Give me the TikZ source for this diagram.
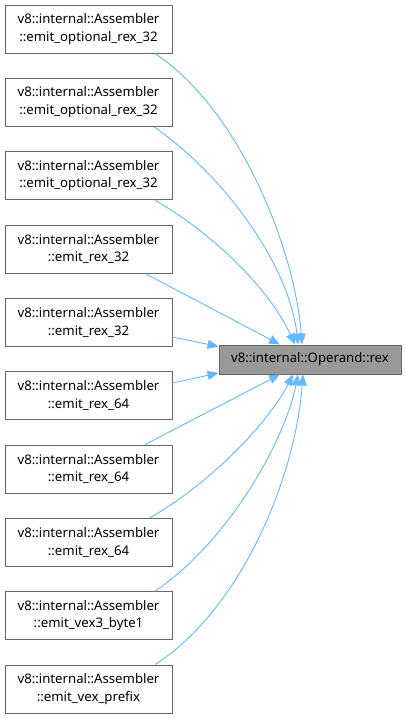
\documentclass[tikz,border=0pt]{standalone}
\usepackage{fontspec}
\setmainfont{Noto Sans}
\usetikzlibrary{arrows.meta}
\definecolor{edgeblue}{HTML}{63B8FF}
\definecolor{boxgray}{HTML}{999999}
\definecolor{bordergray}{HTML}{666666}
\begin{document}
\begin{tikzpicture}[x=1pt,y=-1pt,
  fbox/.style={draw=bordergray,fill=white,line width=0.9pt,minimum width=167pt,minimum height=48pt,inner sep=0pt,align=center,font=\fontsize{13.2}{17.5}\selectfont},
  rbox/.style={draw=bordergray,fill=boxgray,line width=0.9pt,minimum width=182pt,minimum height=29pt,inner sep=0pt,font=\fontsize{13.2}{17.5}\selectfont},
  conn/.style={draw=edgeblue,line width=0.9pt,-{Triangle[length=11pt,width=9pt]}}]
\useasboundingbox (0,0) rectangle (406,719);
\node[rbox] (r) at (310,359.5) {v8::internal::Operand::rex};
\node[fbox] (b1) at (88.5,29) {v8::internal::Assembler\\::emit\_optional\_rex\_32};
\node[fbox] (b2) at (88.5,102.3) {v8::internal::Assembler\\::emit\_optional\_rex\_32};
\node[fbox] (b3) at (88.5,175.7) {v8::internal::Assembler\\::emit\_optional\_rex\_32};
\node[fbox] (b4) at (88.5,249) {v8::internal::Assembler\\::emit\_rex\_32};
\node[fbox] (b5) at (88.5,322.3) {v8::internal::Assembler\\::emit\_rex\_32};
\node[fbox] (b6) at (88.5,395.7) {v8::internal::Assembler\\::emit\_rex\_64};
\node[fbox] (b7) at (88.5,469) {v8::internal::Assembler\\::emit\_rex\_64};
\node[fbox] (b8) at (88.5,542.3) {v8::internal::Assembler\\::emit\_rex\_64};
\node[fbox] (b9) at (88.5,615.7) {v8::internal::Assembler\\::emit\_vex3\_byte1};
\node[fbox] (b10) at (88.5,689) {v8::internal::Assembler\\::emit\_vex\_prefix};
\draw[conn] ([xshift=66.5pt]b1.south) .. controls (240,110) and (295,250) .. ([xshift=-8pt]r.north);
\draw[conn] ([xshift=65.5pt]b2.south) .. controls (230,180) and (290,270) .. ([xshift=-12pt]r.north);
\draw[conn] ([xshift=66.5pt]b3.south) .. controls (215,235) and (270,290) .. ([xshift=-15pt]r.north);
\draw[conn] ([xshift=56.5pt]b4.south) -- ([xshift=-30pt]r.north);
\draw[conn] ([yshift=-14.7pt]b5.east) -- ([yshift=13pt]r.west);
\draw[conn] ([yshift=12.7pt]b6.east) -- ([yshift=-13.5pt]r.west);
\draw[conn] ([xshift=56.5pt]b7.north) -- ([xshift=-30pt]r.south);
\draw[conn] ([xshift=61.5pt]b8.north) .. controls (215,480) and (270,420) .. ([xshift=-17pt]r.south);
\draw[conn] ([xshift=66.5pt]b9.north) .. controls (230,540) and (285,440) .. ([xshift=-12pt]r.south);
\draw[conn] ([xshift=66.5pt]b10.north) .. controls (240,610) and (295,480) .. ([xshift=-7pt]r.south);
\end{tikzpicture}
\end{document}
